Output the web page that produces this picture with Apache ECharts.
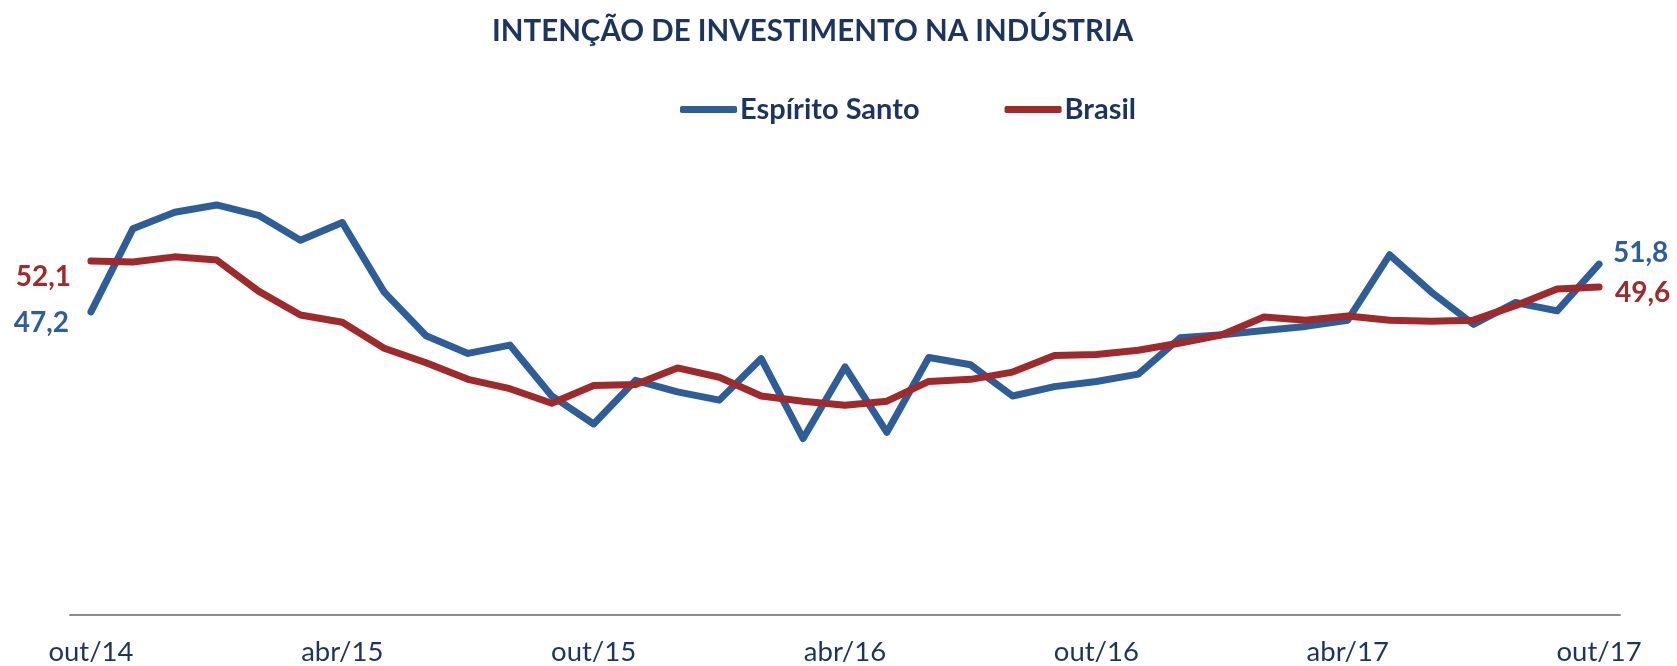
<!DOCTYPE html>
<html>
<head>
<meta charset="utf-8">
<script src="https://cdn.jsdelivr.net/npm/echarts@6/dist/echarts.min.js"></script>
<style>
html,body{margin:0;padding:0;background:#fff;}
#chart{width:1677px;height:666px;}
</style>
</head>
<body>
<div id="chart"></div>
<script>
const categories = [
  'out/14','nov/14','dez/14','jan/15','fev/15','mar/15','abr/15','mai/15','jun/15','jul/15','ago/15','set/15',
  'out/15','nov/15','dez/15','jan/16','fev/16','mar/16','abr/16','mai/16','jun/16','jul/16','ago/16','set/16',
  'out/16','nov/16','dez/16','jan/17','fev/17','mar/17','abr/17','mai/17','jun/17','jul/17','ago/17','set/17',
  'out/17'
];
const espiritoSanto = [
  47.2, 55.2, 56.8, 57.5, 56.5, 54.1, 55.8, 49.1, 44.9, 43.2, 44.0, 39.1,
  36.4, 40.6, 39.5, 38.7, 42.7, 35.0, 41.9, 35.6, 42.8, 42.1, 39.1, 40.0,
  40.5, 41.2, 44.7, 45.0, 45.4, 45.8, 46.4, 52.7, 49.1, 46.0, 48.1, 47.3,
  51.8
];
const brasil = [
  52.1, 52.0, 52.5, 52.2, 49.2, 46.9, 46.2, 43.7, 42.3, 40.7, 39.8, 38.4,
  40.1, 40.2, 41.8, 40.9, 39.1, 38.6, 38.2, 38.6, 40.5, 40.7, 41.4, 43.0,
  43.1, 43.5, 44.2, 45.0, 46.7, 46.4, 46.8, 46.4, 46.3, 46.4, 47.8, 49.4,
  49.6
];
const seriesNames = ['Espírito Santo', 'Brasil'];

const BLUE = '#2e5e9a';
const RED = '#a02a2b';
const NAVY = '#1c355e';
const FONT = 'Lato';

function fmt(v){ return v.toFixed(1).replace('.', ','); }

function buildData(values, color, startLbl, endLbl){
  return values.map(function(v, i){
    const item = { value: v };
    if (i === 0) {
      item.label = Object.assign({ show: true, position: 'left', color: color,
        fontFamily: FONT, fontWeight: 'bold', fontSize: 28, formatter: function(p){ return fmt(p.value); } }, startLbl);
    } else if (i === values.length - 1) {
      item.label = Object.assign({ show: true, position: 'right', color: color,
        fontFamily: FONT, fontWeight: 'bold', fontSize: 28, formatter: function(p){ return fmt(p.value); } }, endLbl);
    }
    return item;
  });
}

const chart = echarts.init(document.getElementById('chart'));
chart.setOption({
  backgroundColor: '#ffffff',
  animation: false,
  title: {
    text: 'INTENÇÃO DE INVESTIMENTO NA INDÚSTRIA',
    left: 487,
    top: 11,
    textStyle: { fontFamily: FONT, fontWeight: 'bold', fontSize: 29.5, color: NAVY }
  },
  legend: {
    left: 675,
    top: 90,
    itemWidth: 57,
    itemHeight: 7,
    itemGap: 85,
    icon: 'roundRect',
    textStyle: { fontFamily: FONT, fontWeight: 'bold', fontSize: 29, color: NAVY, padding: [0,0,0,-2] },
    data: seriesNames
  },
  grid: { left: 70, right: 57, top: 179, bottom: 50, containLabel: false },
  xAxis: {
    type: 'category',
    data: categories,
    boundaryGap: true,
    axisLine: { show: true, lineStyle: { color: '#8c8c8c', width: 2 } },
    axisTick: { show: false },
    axisLabel: { interval: 5, fontFamily: FONT, fontSize: 27.5, color: NAVY, margin: 23 },
    splitLine: { show: false }
  },
  yAxis: {
    type: 'value',
    min: 18,
    max: 60,
    show: false,
    splitLine: { show: false }
  },
  series: [
    {
      name: seriesNames[0],
      type: 'line',
      data: buildData(espiritoSanto, BLUE, { distance: 19, offset: [0, 11] }, { distance: 11, offset: [0, -11] }),
      symbol: 'circle',
      symbolSize: 6,
      showSymbol: true,
      itemStyle: { color: BLUE, borderWidth: 0 },
      lineStyle: { color: BLUE, width: 7, cap: 'round', join: 'round' },
      z: 2
    },
    {
      name: seriesNames[1],
      type: 'line',
      data: buildData(brasil, RED, { distance: 17, offset: [0, 16] }, { distance: 13, offset: [0, 6] }),
      symbol: 'circle',
      symbolSize: 6,
      showSymbol: true,
      itemStyle: { color: RED, borderWidth: 0 },
      lineStyle: { color: RED, width: 7, cap: 'round', join: 'round' },
      z: 3
    }
  ]
});
</script>
</body>
</html>
